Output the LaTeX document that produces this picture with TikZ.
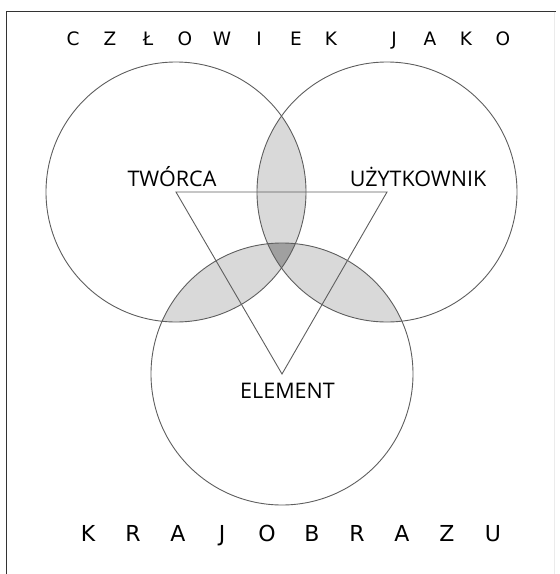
\documentclass[tikz,border=0pt]{standalone}
\usepackage{fontspec}
\setmainfont{Open Sans}
\newfontfamily\spacedfont{DejaVu Sans}
\usetikzlibrary{positioning}
\definecolor{lensgray}{HTML}{D9D9D9}
\definecolor{coregray}{HTML}{A0A0A0}
\definecolor{ringgray}{HTML}{5E5E5E}
\tikzset{
  ring/.style={draw=ringgray, line width=0.9pt},
  tri/.style={draw=ringgray, line width=0.9pt, line join=miter},
  label/.style={font=\fontsize{21.5}{26}\selectfont, text=black, inner sep=0pt, anchor=base},
  topch/.style={font=\spacedfont\fontsize{18.5}{22}\selectfont, text=black, inner sep=0pt, anchor=base},
  botch/.style={font=\spacedfont\fontsize{22}{26}\selectfont, text=black, inner sep=0pt, anchor=base},
}

\begin{document}
\begin{tikzpicture}[x=1pt, y=-1pt]
    \useasboundingbox (0,0) rectangle (560,574);
    % frame
    \draw[black!80, line width=1pt] (6.5,574) -- (6.5,11.5) -- (556,11.5);
    \draw[black!8, line width=0.8pt] (554,11.5) -- (554,574);

    % circle centres
    \coordinate (tworca) at (176,192);
    \coordinate (uzytk) at (387,192);
    \coordinate (elem) at (282,374);

    % shaded overlaps
    \begin{scope}
      \clip (tworca) circle[radius=130];
      \fill[lensgray] (uzytk) circle[radius=130];
      \fill[lensgray] (elem) circle[radius=131];
    \end{scope}
    \begin{scope}
      \clip (uzytk) circle[radius=130];
      \fill[lensgray] (elem) circle[radius=131];
    \end{scope}
    \begin{scope}
      \clip (tworca) circle[radius=130];
      \clip (uzytk) circle[radius=130];
      \fill[coregray] (elem) circle[radius=131];
    \end{scope}

    % circles
    \draw[ring] (tworca) circle[radius=130];
    \draw[ring] (uzytk) circle[radius=130];
    \draw[ring] (elem) circle[radius=131];

    % triangle
    \draw[tri] (tworca) -- (uzytk) -- (elem) -- cycle;

    % labels
    \node[label] (lt) at (172,186) {TWÓRCA};
    \node[label] (lu) at (418,186) {UŻYTKOWNIK};
    \node[label] (le) at (287.5,398) {ELEMENT};

    % spaced title letters
    \foreach \ch/\x [count=\i] in {C/73, Z/110, Ł/148, O/185, W/222, I/259, E/296, K/331, J/394, A/430, K/466, O/503}
      \node[topch] (t\i) at (\x,45) {\ch};
    \foreach \ch/\x [count=\i] in {K/88, R/133, A/178, J/222, O/267, B/312, R/357, A/402, Z/447, U/493}
      \node[botch] (b\i) at (\x,541) {\ch};
\end{tikzpicture}
\end{document}
